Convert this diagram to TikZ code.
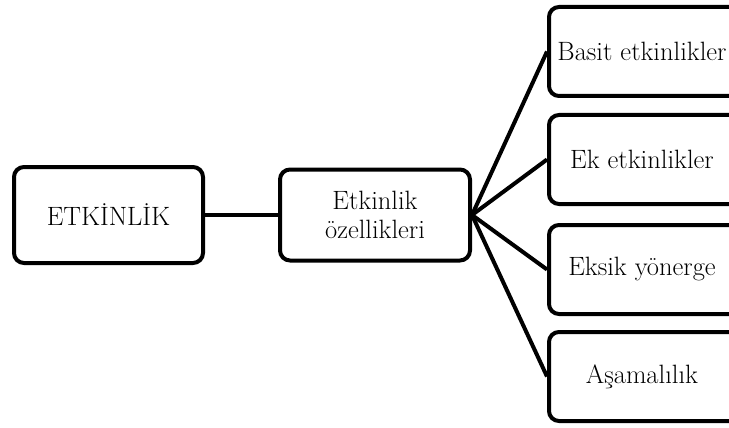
\documentclass[tikz,border=0pt]{standalone}
\usepackage{fontspec}
\usetikzlibrary{positioning}

\begin{document}
\begin{tikzpicture}[
    x=1pt, y=-1pt,
    box/.style = {draw, line width=4pt, rounded corners=10pt, align=center,
                  font=\fontsize{26.5}{29}\selectfont},
    mainbox/.style = {box, minimum width=189pt, minimum height=96pt},
    midbox/.style = {box, minimum width=190pt, minimum height=91pt},
    leaf/.style = {box, minimum width=210pt, minimum height=89pt, anchor=west},
    link/.style = {line width=4pt}
    ]
    \useasboundingbox (0,0) rectangle (729,428);
    \clip (0,0) rectangle (729,428);
    \node[mainbox] (etkinlik) at (108.5,215) {ETKİNLİK};
    \node[midbox, right=73pt of etkinlik] (ozellik) {Etkinlik\\özellikleri};
    \node[leaf] (basit) at (547,51.5) {Basit etkinlikler\hspace{24pt}};
    \node[leaf, below=15pt of basit.south west, anchor=north west] (ek) {Ek etkinlikler\hspace{24pt}};
    \node[leaf, below=17pt of ek.south west, anchor=north west] (eksik) {Eksik yönerge\hspace{24pt}};
    \node[leaf, below=14pt of eksik.south west, anchor=north west] (asama) {Aşamalılık\hspace{24pt}};

    \draw[link] (etkinlik) -- (ozellik);
    \foreach \n in {basit,ek,eksik,asama}
        \draw[link] (ozellik.east) -- (\n.west);
\end{tikzpicture}
\end{document}
